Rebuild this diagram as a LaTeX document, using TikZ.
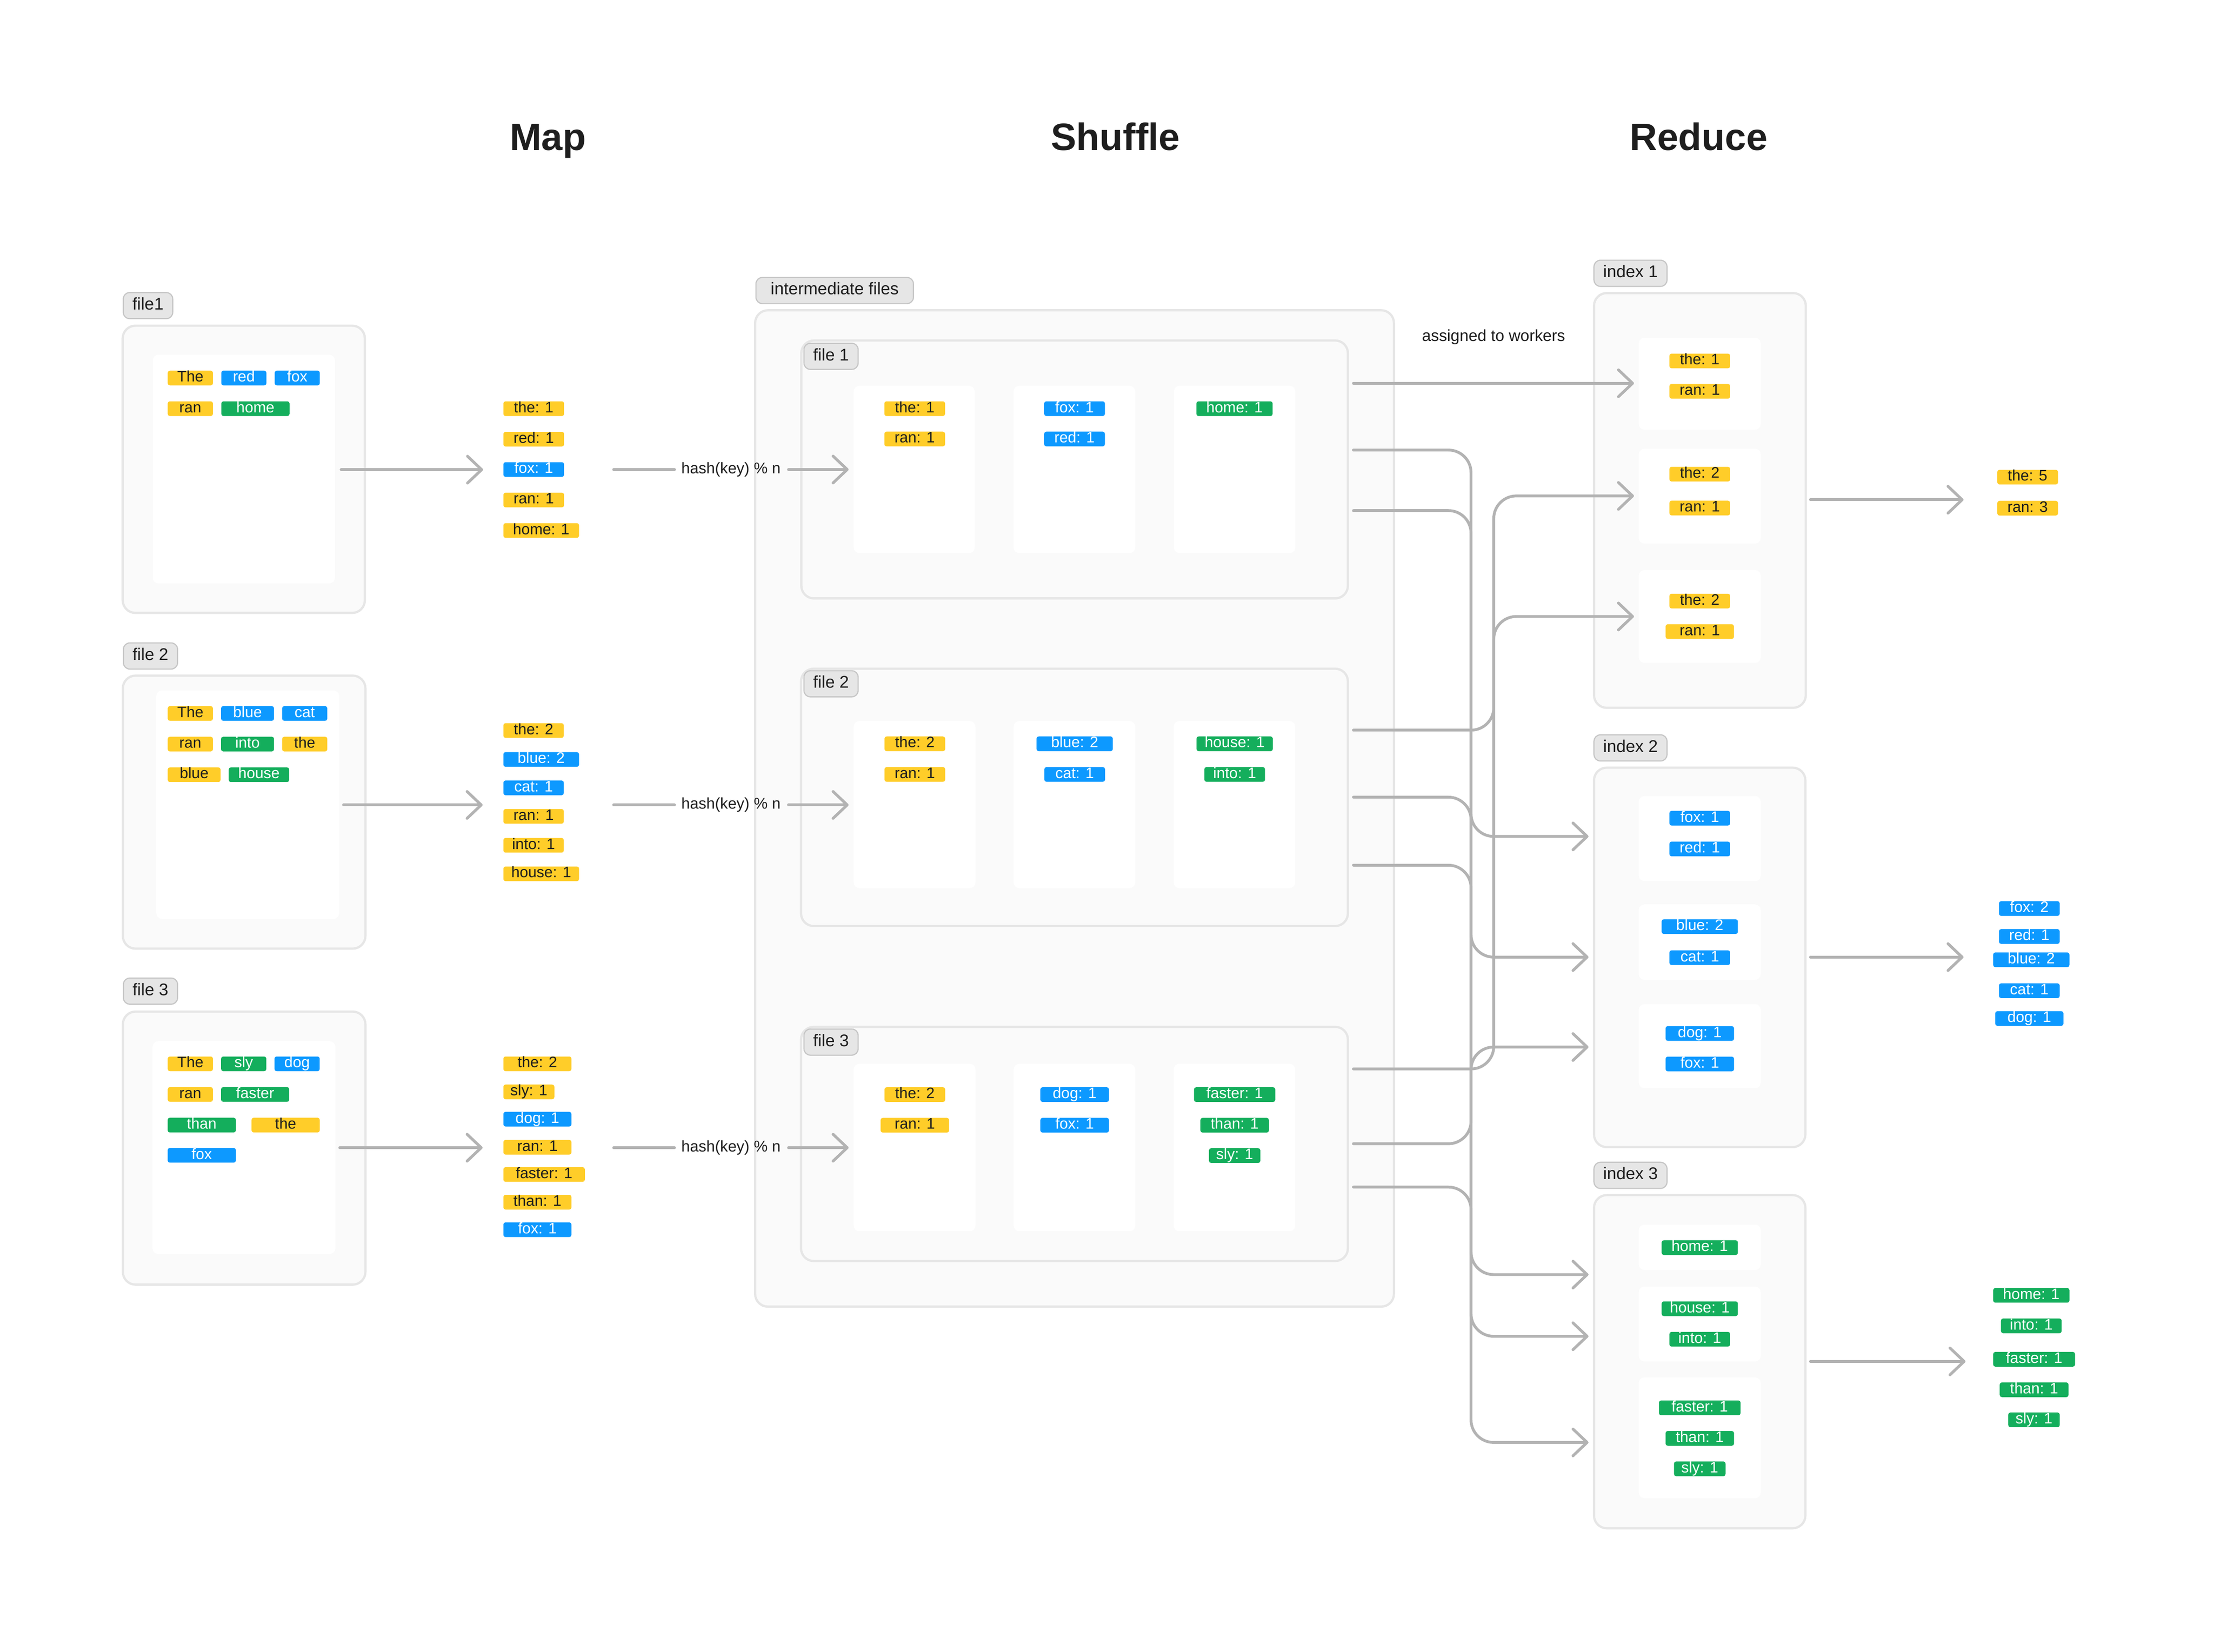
\documentclass[tikz,border=0pt]{standalone}
\usepackage{fontspec}
\setmainfont{Liberation Sans}
\usetikzlibrary{arrows.meta}
\definecolor{cyel}{HTML}{FFCD29}
\definecolor{cblue}{HTML}{0D99FF}
\definecolor{cgreen}{HTML}{14AE5C}
\definecolor{cdark}{HTML}{1E1E1E}
\definecolor{cframe}{HTML}{FAFAFA}
\definecolor{cframed}{HTML}{E6E6E6}
\definecolor{clabel}{HTML}{E6E6E6}
\definecolor{clabeld}{HTML}{C6C6C6}
\definecolor{cline}{HTML}{B3B3B3}
\newcommand\mkbox[6]{\node[#1, anchor=north west, inner sep=0pt, outer sep=0pt, minimum width={(#5-#3)*1pt}, minimum height={(#6-#4)*1pt}] (#2) at (#3,#4) {};}
\newcommand\tagn[6]{\node[tag#1, minimum width=#3pt] (#2) at (#4,#5) {#6};}
\newcommand\tagw[6]{\node[tag#1, anchor=west, minimum width=#3pt] (#2) at (#4,#5) {#6};}
\newcommand\hashtext{hash(key) \char37\ n}
\begin{document}
\begin{tikzpicture}[x=1pt,y=-1pt,
  frame/.style={fill=cframe, draw=cframed, line width=1.6pt, rounded corners=9pt},
  inner/.style={fill=white, rounded corners=4pt},
  lbl/.style={fill=clabel, draw=clabeld, line width=0.8pt, rounded corners=4.5pt, minimum height=18.5pt, inner xsep=6.5pt, inner ysep=0pt, text height=8.6pt, text depth=2.6pt, text=cdark, font=\fontsize{12}{14}\selectfont, anchor=west},
  title/.style={text=cdark, anchor=base, font=\bfseries\fontsize{27}{32}\selectfont},
  plain/.style={text=cdark, font=\fontsize{11}{13}\selectfont},
  tagbase/.style={rounded corners=1.5pt, minimum height=10.4pt, inner sep=0pt, text height=7.6pt, text depth=2.2pt, font=\fontsize{10.8}{12}\selectfont},
  tagy/.style={tagbase, fill=cyel, text=cdark},
  tagb/.style={tagbase, fill=cblue, text=white},
  tagg/.style={tagbase, fill=cgreen, text=white},
  conn/.style={draw=cline, line width=2pt, line cap=round},
  arr/.style={conn, -{Straight Barb[length=10pt, width=19pt, round]}},
  routed/.style={arr, rounded corners=16pt}
]
\useasboundingbox (0,0) rectangle (1568,1170);

\node[title] (tmap) at (388,106.6) {Map};
\node[title] (tshuffle) at (790,106.6) {Shuffle};
\node[title] (treduce) at (1203,106.6) {Reduce};

% ================= MAP =================
\node[lbl] (l1) at (86.9,216.5) {file1};
\mkbox{frame}{mf1}{86.9}{230.7}{258.4}{434.2}
\mkbox{inner}{mi1}{108.2}{251.3}{237.2}{413.3}
\tagn{y}{w1a}{32}{134.8}{267.8}{The}
\tagn{b}{w1b}{32}{172.7}{267.8}{red}
\tagn{b}{w1c}{32}{210.5}{267.8}{fox}
\tagn{y}{w1d}{32}{134.8}{289.5}{ran}
\tagn{g}{w1e}{48.3}{180.9}{289.5}{home}
\tagw{y}{o1a}{43}{356.3}{289.5}{the: 1}
\tagw{y}{o1b}{43}{356.3}{311.1}{red: 1}
\tagw{b}{o1c}{43}{356.3}{332.6}{fox: 1}
\tagw{y}{o1d}{43}{356.3}{354.2}{ran: 1}
\tagw{y}{o1e}{53.6}{356.3}{375.8}{home: 1}

\node[lbl] (l2) at (87,464.7) {file 2};
\mkbox{frame}{mf2}{87}{478.6}{258.8}{672}
\mkbox{inner}{mi2}{110.7}{489.1}{240.2}{650.9}
\tagn{y}{w2a}{32}{134.8}{505.4}{The}
\tagn{b}{w2b}{37.5}{175.3}{505.4}{blue}
\tagn{b}{w2c}{32}{215.8}{505.4}{cat}
\tagn{y}{w2d}{32}{134.8}{527.1}{ran}
\tagn{g}{w2e}{37.5}{175.3}{527.1}{into}
\tagn{y}{w2f}{32}{215.8}{527.1}{the}
\tagn{y}{w2g}{37.4}{137.5}{548.8}{blue}
\tagn{g}{w2h}{42.8}{183.4}{548.8}{house}
\tagw{y}{o2a}{42.8}{356.3}{517.5}{the: 2}
\tagw{b}{o2b}{53.6}{356.3}{538}{blue: 2}
\tagw{b}{o2c}{42.8}{356.3}{558.1}{cat: 1}
\tagw{y}{o2d}{42.8}{356.3}{578.3}{ran: 1}
\tagw{y}{o2e}{42.8}{356.3}{598.8}{into: 1}
\tagw{y}{o2f}{53.6}{356.3}{619}{house: 1}

\node[lbl] (l3) at (87,702.1) {file 3};
\mkbox{frame}{mf3}{87}{716.6}{258.8}{910}
\mkbox{inner}{mi3}{108}{737.6}{237.5}{888.3}
\tagn{y}{w3a}{32}{134.8}{753.6}{The}
\tagn{g}{w3b}{32}{172.6}{753.6}{sly}
\tagn{b}{w3c}{32}{210.4}{753.6}{dog}
\tagn{y}{w3d}{32}{134.8}{775.3}{ran}
\tagn{g}{w3e}{48.3}{180.7}{775.3}{faster}
\tagn{g}{w3f}{48.3}{142.9}{797}{than}
\tagn{y}{w3g}{48.3}{202.3}{797}{the}
\tagn{b}{w3h}{48.3}{142.9}{818.4}{fox}
\tagw{y}{o3a}{48.2}{356.3}{753.6}{the: 2}
\tagw{y}{o3b}{36.1}{356.3}{773.5}{sly: 1}
\tagw{b}{o3c}{48.2}{356.3}{792.8}{dog: 1}
\tagw{y}{o3d}{48.2}{356.3}{812.7}{ran: 1}
\tagw{y}{o3e}{57.7}{356.3}{832}{faster: 1}
\tagw{y}{o3f}{48.2}{356.3}{851.6}{than: 1}
\tagw{b}{o3g}{48.2}{356.3}{871.1}{fox: 1}

\coordinate (m1s) at (241.6,332.7); \coordinate (m1e) at (342.1,332.7);
\coordinate (m2s) at (243.3,570.2); \coordinate (m2e) at (341.8,570.2);
\coordinate (m3s) at (240.6,813);   \coordinate (m3e) at (341.8,813);
\draw[arr] (m1s) -- (m1e);
\draw[arr] (m2s) -- (m2e);
\draw[arr] (m3s) -- (m3e);

% ================= SHUFFLE =================
\node[lbl, minimum width=111.5pt, inner xsep=4pt] (lint) at (535,205.8) {intermediate files};
\mkbox{frame}{sout}{534.8}{219.8}{987.2}{925.6}

\mkbox{frame}{sf1}{567.5}{241.2}{954.6}{423.9}
\node[lbl] (sl1) at (569,252.4) {file 1};
\mkbox{inner}{s1c1}{604.6}{273.3}{690.3}{391.8}
\mkbox{inner}{s1c2}{717.8}{273.3}{804}{391.8}
\mkbox{inner}{s1c3}{831.4}{273.3}{917.4}{391.8}
\tagn{y}{s1a}{43}{647.8}{289.5}{the: 1}
\tagn{y}{s1b}{43}{647.8}{311}{ran: 1}
\tagn{b}{s1c}{43}{761}{289.5}{fox: 1}
\tagn{b}{s1d}{43}{761}{311}{red: 1}
\tagn{g}{s1e}{54}{874.3}{289.5}{home: 1}

\mkbox{frame}{sf2}{567.3}{473.7}{954.6}{656}
\node[lbl] (sl2) at (569,484.4) {file 2};
\mkbox{inner}{s2c1}{604.6}{510.8}{690.8}{629.1}
\mkbox{inner}{s2c2}{717.9}{510.8}{804}{629.1}
\mkbox{inner}{s2c3}{831.2}{510.8}{917.3}{629.1}
\tagn{y}{s2a}{43}{647.9}{526.9}{the: 2}
\tagn{y}{s2b}{43}{647.9}{548.6}{ran: 1}
\tagn{b}{s2c}{54}{761.1}{526.9}{blue: 2}
\tagn{b}{s2d}{43}{761.1}{548.6}{cat: 1}
\tagn{g}{s2e}{54}{874.4}{526.9}{house: 1}
\tagn{g}{s2f}{43}{874.4}{548.6}{into: 1}

\mkbox{frame}{sf3}{567.3}{727.4}{954.6}{893.3}
\node[lbl] (sl3) at (569,738.2) {file 3};
\mkbox{inner}{s3c1}{604.6}{753.6}{690.8}{872.2}
\mkbox{inner}{s3c2}{717.9}{753.6}{804}{872.2}
\mkbox{inner}{s3c3}{831.2}{753.6}{917.3}{872.2}
\tagn{y}{s3a}{43}{647.9}{775.4}{the: 2}
\tagn{y}{s3b}{48.5}{647.9}{797.1}{ran: 1}
\tagn{b}{s3c}{48.6}{761.1}{775.4}{dog: 1}
\tagn{b}{s3d}{48.6}{761.1}{797.1}{fox: 1}
\tagn{g}{s3e}{57.6}{874.4}{775.4}{faster: 1}
\tagn{g}{s3f}{48.5}{874.4}{797.1}{than: 1}
\tagn{g}{s3g}{36.4}{874.4}{818.6}{sly: 1}

% hash connectors (drawn over the shuffle frame)
\coordinate (h1a) at (434.6,332.6); \coordinate (h1b) at (477.7,332.6);
\node[plain] (h1t) at (517.7,332.6) {\hashtext};
\coordinate (h1c) at (558.4,332.6); \coordinate (h1d) at (601,332.6);
\draw[conn] (h1a) -- (h1b);
\draw[arr] (h1c) -- (h1d);

\coordinate (h2a) at (434.6,570.2); \coordinate (h2b) at (477.7,570.2);
\node[plain] (h2t) at (517.7,570.2) {\hashtext};
\coordinate (h2c) at (558.4,570.2); \coordinate (h2d) at (601,570.2);
\draw[conn] (h2a) -- (h2b);
\draw[arr] (h2c) -- (h2d);

\coordinate (h3a) at (434.6,813); \coordinate (h3b) at (477.7,813);
\node[plain] (h3t) at (517.7,813) {\hashtext};
\coordinate (h3c) at (558.4,813); \coordinate (h3d) at (601,813);
\draw[conn] (h3a) -- (h3b);
\draw[arr] (h3c) -- (h3d);

\node[plain, font=\fontsize{11.4}{13}\selectfont] (assign) at (1057.8,238.9) {assigned to workers};

% ================= REDUCE =================
\node[lbl] (il1) at (1128.5,193.6) {index 1};
\mkbox{frame}{ix1}{1128.9}{207.6}{1278.9}{501.4}
\mkbox{inner}{i1b1}{1160.6}{239.3}{1247}{304.4}
\mkbox{inner}{i1b2}{1160.6}{317.9}{1247}{385.1}
\mkbox{inner}{i1b3}{1160.6}{403.8}{1247}{469.6}
\tagn{y}{r1a}{43}{1203.8}{255.7}{the: 1}
\tagn{y}{r1b}{43}{1203.8}{277.2}{ran: 1}
\tagn{y}{r1c}{43}{1203.8}{335.9}{the: 2}
\tagn{y}{r1d}{43}{1203.8}{359.9}{ran: 1}
\tagn{y}{r1e}{43}{1203.8}{425.8}{the: 2}
\tagn{y}{r1f}{48.4}{1203.8}{447.4}{ran: 1}

\node[lbl] (il2) at (1128.5,529.8) {index 2};
\mkbox{frame}{ix2}{1128.9}{543.8}{1278.6}{812.6}
\mkbox{inner}{i2b1}{1160.6}{563.9}{1247}{624.2}
\mkbox{inner}{i2b2}{1160.6}{640.7}{1247}{694.1}
\mkbox{inner}{i2b3}{1160.6}{711.3}{1247}{770.9}
\tagn{b}{r2a}{43}{1203.8}{579.6}{fox: 1}
\tagn{b}{r2b}{43}{1203.8}{601.4}{red: 1}
\tagn{b}{r2c}{54}{1203.8}{656.4}{blue: 2}
\tagn{b}{r2d}{43}{1203.8}{678.4}{cat: 1}
\tagn{b}{r2e}{48.5}{1203.8}{732.1}{dog: 1}
\tagn{b}{r2f}{48.5}{1203.8}{753.7}{fox: 1}

\node[lbl] (il3) at (1128.5,832.6) {index 3};
\mkbox{frame}{ix3}{1128.9}{846.6}{1278.6}{1082.6}
\mkbox{inner}{i3b1}{1160.6}{867.5}{1247}{899.7}
\mkbox{inner}{i3b2}{1160.6}{911.4}{1247}{964.4}
\mkbox{inner}{i3b3}{1160.6}{975.7}{1247}{1061.3}
\tagn{g}{r3a}{54}{1203.8}{883.8}{home: 1}
\tagn{g}{r3b}{54}{1203.8}{927.1}{house: 1}
\tagn{g}{r3c}{43}{1203.8}{948.7}{into: 1}
\tagn{g}{r3d}{57.8}{1203.8}{997.3}{faster: 1}
\tagn{g}{r3e}{48.5}{1203.8}{1018.9}{than: 1}
\tagn{g}{r3f}{36.5}{1203.8}{1040.5}{sly: 1}

\tagn{y}{f1a}{43}{1436}{338}{the: 5}
\tagn{y}{f1b}{43}{1436}{360}{ran: 3}
\tagn{b}{f2a}{43}{1437.2}{643.6}{fox: 2}
\tagn{b}{f2b}{43}{1437.2}{663.4}{red: 1}
\tagn{b}{f2c}{54}{1438.6}{679.9}{blue: 2}
\tagn{b}{f2d}{43}{1437.2}{701.8}{cat: 1}
\tagn{b}{f2e}{48.3}{1437.2}{721.5}{dog: 1}
\tagn{g}{f3a}{54}{1438.6}{917.6}{home: 1}
\tagn{g}{f3b}{43}{1438.6}{939.2}{into: 1}
\tagn{g}{f3c}{58}{1440.6}{962.9}{faster: 1}
\tagn{g}{f3d}{48.7}{1440.6}{984.5}{than: 1}
\tagn{g}{f3e}{36.4}{1440.5}{1005.8}{sly: 1}

\coordinate (rd1s) at (1282.2,354);   \coordinate (rd1e) at (1390.6,354);
\coordinate (rd2s) at (1282.2,678);   \coordinate (rd2e) at (1390.6,678);
\coordinate (rd3s) at (1282.2,964.4); \coordinate (rd3e) at (1392,964.4);
\draw[arr] (rd1s) -- (rd1e);
\draw[arr] (rd2s) -- (rd2e);
\draw[arr] (rd3s) -- (rd3e);

% ================= SHUFFLE -> REDUCE connectors =================
\coordinate (c11s) at (958.5,271.5); \coordinate (c11e) at (1157.2,271.5);
\coordinate (c12s) at (958.5,318.8); \coordinate (c12e) at (1125,592.5);
\coordinate (c13s) at (958.5,361.7); \coordinate (c13e) at (1125,902.9);
\coordinate (c21s) at (958.5,517.2); \coordinate (c21e) at (1157.2,351.3);
\coordinate (c22s) at (958.5,564.7); \coordinate (c22e) at (1125,678);
\coordinate (c23s) at (958.5,612.9); \coordinate (c23e) at (1125,946.6);
\coordinate (c31s) at (958.5,757.2); \coordinate (c31e) at (1157.2,436.7);
\coordinate (c32s) at (958.5,810.2); \coordinate (c32e) at (1125,741.7);
\coordinate (c33s) at (958.5,840.9); \coordinate (c33e) at (1125,1021.8);
\coordinate (trA) at (1041.8,0);
\coordinate (trB) at (1057.9,0);
\draw[arr] (c11s) -- (c11e);
\draw[routed] (c12s) -| (trA |- c12e) -- (c12e);
\draw[routed] (c13s) -| (trA |- c13e) -- (c13e);
\draw[routed] (c21s) -| (trB |- c21e) -- (c21e);
\draw[routed] (c22s) -| (trA |- c22e) -- (c22e);
\draw[routed] (c23s) -| (trA |- c23e) -- (c23e);
\draw[routed] (c31s) -| (trB |- c31e) -- (c31e);
\draw[routed] (c32s) -| (trA |- c32e) -- (c32e);
\draw[routed] (c33s) -| (trA |- c33e) -- (c33e);
\end{tikzpicture}
\end{document}
